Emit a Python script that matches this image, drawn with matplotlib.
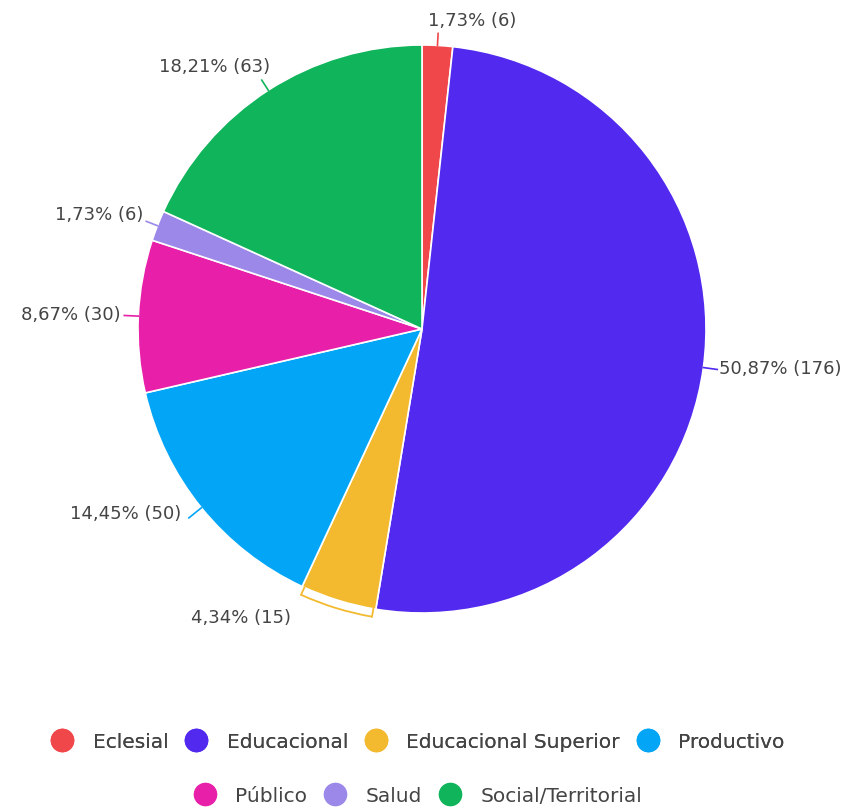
import numpy as np
import matplotlib
matplotlib.use("Agg")
import matplotlib.pyplot as plt
from matplotlib.lines import Line2D
from matplotlib.patches import Arc

categories = ["Eclesial", "Educacional", "Educacional Superior", "Productivo",
              "Público", "Salud", "Social/Territorial"]
counts = [6, 176, 15, 50, 30, 6, 63]
pct_labels = ["1,73%", "50,87%", "4,34%", "14,45%", "8,67%", "1,73%", "18,21%"]
colors = ["#f0474b", "#5229ee", "#f3ba30", "#03a6f6", "#e81fa8", "#9b88e9", "#0fb45b"]

plt.rcParams['font.family'] = ['DejaVu Sans']
W, H = 849, 807
fig = plt.figure(figsize=(W / 100, H / 100), dpi=100)
ax = fig.add_axes([0, 0, 1, 1])
ax.set_xlim(0, W)
ax.set_ylim(0, H)
ax.set_aspect('equal')
ax.axis('off')

cx, cy, R = 422, H - 329, 284
wedges, _ = ax.pie(counts, colors=colors, startangle=90, counterclock=False,
                   center=(cx, cy), radius=R,
                   wedgeprops=dict(edgecolor='white', linewidth=1.2))
ax.set_xlim(0, W)
ax.set_ylim(0, H)

txt_color = "#444444"
FS = 13
# per label: (tick length, text dx, text dy, ha, va)
specs = [
    (12, -10, 3, 'left', 'bottom'),
    (14, 2, 0, 'left', 'center'),
    (None, -45, -10, 'right', 'center'),
    (16, -8, 4, 'right', 'center'),
    (14, -4, 0, 'right', 'center'),
    (12, -3, 6, 'right', 'center'),
    (12, 8, 4, 'right', 'bottom'),
]
for w, c, n, p, col, sp in zip(wedges, categories, counts, pct_labels, colors, specs):
    th = np.deg2rad((w.theta1 + w.theta2) / 2)
    ux, uy = np.cos(th), np.sin(th)
    label = f"{p} ({n})"
    tl, dx, dy, ha, va = sp
    if tl is None:
        rb = R + 8
        ax.add_patch(Arc((cx, cy), 2 * rb, 2 * rb, theta1=w.theta1 + 0.5, theta2=w.theta2 - 0.5,
                         color=col, lw=1.3))
        for t in (w.theta1 + 0.5, w.theta2 - 0.5):
            tr = np.deg2rad(t)
            ax.plot([cx + R * np.cos(tr), cx + rb * np.cos(tr)],
                    [cy + R * np.sin(tr), cy + rb * np.sin(tr)], color=col, lw=1.3)
        bx, by = cx + rb * ux, cy + rb * uy
        ax.text(bx + dx, by + dy, label, ha=ha, va=va, fontsize=FS, color=txt_color)
    else:
        x0, y0 = cx + R * ux, cy + R * uy
        x1, y1 = cx + (R + tl) * ux, cy + (R + tl) * uy
        ax.plot([x0, x1], [y0, y1], color=col, lw=1.2)
        ax.text(x1 + dx, y1 + dy, label, ha=ha, va=va, fontsize=FS, color=txt_color)

def handles(idx):
    return [Line2D([], [], marker='o', linestyle='none', markersize=16,
                   markerfacecolor=colors[i], markeredgecolor=colors[i]) for i in idx]

leg1 = fig.legend(handles(range(4)), categories[:4], loc='center',
                  bbox_to_anchor=(0.487, 1 - 742 / H), ncol=4, frameon=False,
                  fontsize=14.5, handletextpad=0.5, columnspacing=0.4,
                  labelcolor=txt_color)
leg2 = fig.legend(handles(range(4, 7)), categories[4:], loc='center',
                  bbox_to_anchor=(0.487, 1 - 796 / H), ncol=3, frameon=False,
                  fontsize=14.5, handletextpad=0.5, columnspacing=0.4,
                  labelcolor=txt_color)
fig.add_artist(leg1)

fig.savefig("out.png", dpi=100)
